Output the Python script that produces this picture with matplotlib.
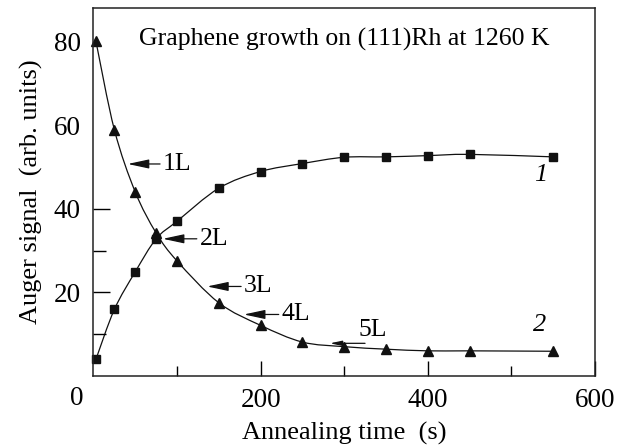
import matplotlib
matplotlib.use('Agg')
import matplotlib.pyplot as plt
from matplotlib.path import Path
from matplotlib.patches import PathPatch

# Annealing time (s) and Auger signal (arb. units)
time_s = [3, 25, 50, 75, 100, 150, 200, 250, 300, 350, 400, 450, 550]
rh_signal = [4.0, 15.9, 24.9, 32.8, 37.0, 44.9, 48.9, 50.8, 52.3, 52.4, 52.7, 53.0, 52.4]   # curve 1
c_signal = [80.0, 58.9, 44.0, 34.2, 27.5, 17.5, 12.1, 8.1, 7.0, 6.4, 6.0, 6.0, 5.9]       # curve 2

# layer marks: label, arrow head (x, y), text position (x, y)
layer_labels = ['1L', '2L', '3L', '4L']
layer_heads = [(41, 50.7), (83, 32.8), (136, 21.4), (180, 14.7)]
layer_texts = [(83, 50.7), (127, 32.8), (180, 21.4), (225, 14.7)]

x_ticks = [0, 200, 400, 600]
x_ticklabels = ['', '200', '400', '600']   # "0" is drawn at the corner below
y_ticks = [20, 40, 60, 80]

plt.rcParams['font.family'] = ['Liberation Serif', 'DejaVu Serif']


def smooth_path(xs, ys):
    # cubic bezier through the measured points (smooth line style)
    verts = [(xs[0], ys[0])]
    codes = [Path.MOVETO]
    n = len(xs)
    for i in range(n - 1):
        x0, y0 = xs[max(i - 1, 0)], ys[max(i - 1, 0)]
        x1, y1 = xs[i], ys[i]
        x2, y2 = xs[i + 1], ys[i + 1]
        x3, y3 = xs[min(i + 2, n - 1)], ys[min(i + 2, n - 1)]
        c1 = (x1 + (x2 - x0) / 6, y1 + (y2 - y0) / 6)
        c2 = (x2 - (x3 - x1) / 6, y2 - (y3 - y1) / 6)
        verts += [c1, c2, (x2, y2)]
        codes += [Path.CURVE4] * 3
    return Path(verts, codes)


fig = plt.figure(figsize=(6.19, 4.47), dpi=100)
ax = fig.add_axes([0.151, 0.159, 0.81, 0.823])

for ys, mk, ms in [(rh_signal, 's', 5.5), (c_signal, '^', 6.5)]:
    ax.add_patch(PathPatch(smooth_path(time_s, ys), fill=False, lw=0.9, edgecolor='#111111'))
    ax.plot(time_s, ys, linestyle='none', marker=mk, markersize=ms, color='#111111', clip_on=False)

ax.set_xlim(0, 600)
ax.set_ylim(0, 88)

ax.set_xticks(x_ticks)
ax.set_xticklabels(x_ticklabels)
ax.set_xticks([100, 300, 500], minor=True)
ax.set_yticks(y_ticks)
ax.set_yticks([10, 30], minor=True)
ax.tick_params(which='both', direction='in', labelsize=19.5, width=1, top=False, right=False)
ax.tick_params(axis='x', which='major', length=11, pad=9)
ax.tick_params(axis='x', which='minor', length=7)
ax.tick_params(axis='y', which='major', length=12, pad=9)
ax.tick_params(axis='y', which='minor', length=9)
for t in ax.yaxis.get_major_ticks()[2:]:
    t.tick1line.set_visible(False)
ax.xaxis.get_major_ticks()[0].tick1line.set_visible(False)
ax.text(-20, -0.028, '0', fontsize=19.5, ha='center', va='top',
        transform=ax.get_xaxis_transform(), clip_on=False)

for s in ax.spines.values():
    s.set_linewidth(1.1)
    s.set_color('#222222')

ax.set_xlabel('Annealing time  (s)', fontsize=19, labelpad=6)
ax.set_ylabel('Auger signal  (arb. units)', fontsize=19, labelpad=8)

ax.text(300, 80.5, 'Graphene growth on (111)Rh at 1260 K', fontsize=18.5,
        ha='center', va='center')

arrow = dict(arrowstyle='-|>,head_length=0.7,head_width=0.15', lw=0.9,
             color='#111111', shrinkA=0, shrinkB=0)
for lab, head, pos in zip(layer_labels, layer_heads, layer_texts):
    ax.annotate(lab, xy=head, xytext=pos, fontsize=18.5, ha='left', va='center',
                arrowprops=dict(arrow, relpos=(0, 0.5)))
ax.annotate('', xy=(283, 7.8), xytext=(325, 7.8), arrowprops=arrow)
ax.text(317, 10.9, '5L', fontsize=18.5, ha='left', va='center')

ax.text(535, 48.1, '1', fontsize=19, style='italic', ha='center', va='center')
ax.text(534, 12.1, '2', fontsize=19, style='italic', ha='center', va='center')

fig.savefig('out.png', dpi=100)
